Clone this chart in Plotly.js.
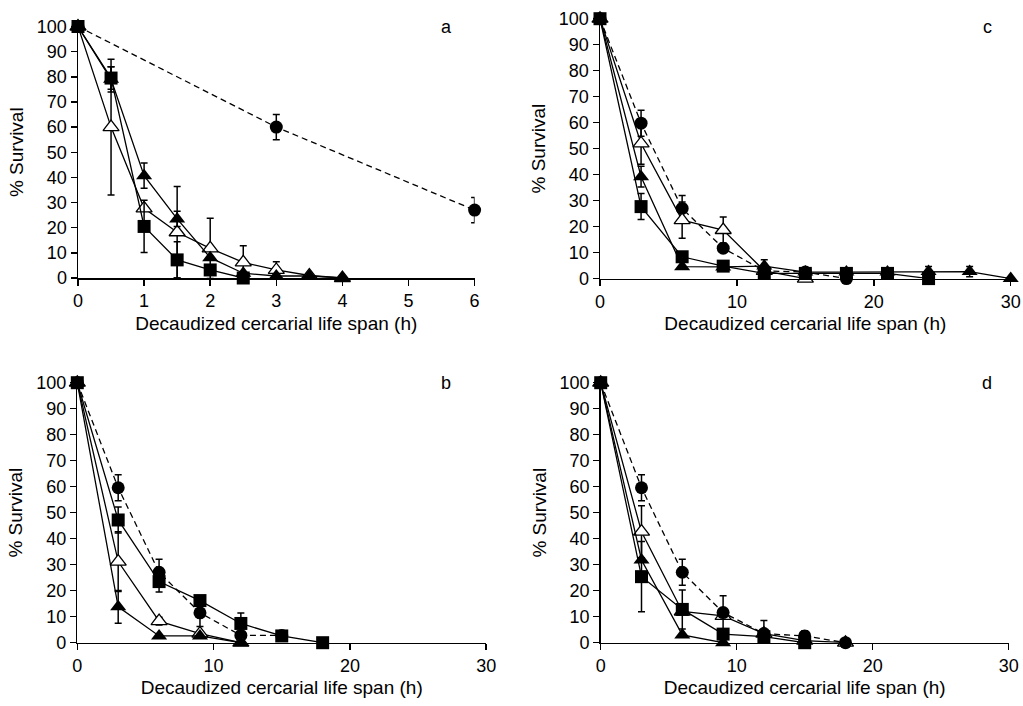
<!DOCTYPE html>
<html><head><meta charset="utf-8">
<script src="https://cdn.plot.ly/plotly-3.0.1.min.js"></script>
<style>html,body{margin:0;padding:0;background:#fff}#chart{width:1023px;height:706px}</style>
</head><body><div id="chart"></div>
<script>
// Panel a
const a_circle_x = [0, 3, 6];
const a_circle_y = [100, 60, 27];
const a_circle_err = [0, 5, 5];
const a_otri_x = [0, 0.5, 1, 1.5, 2, 2.5, 3, 3.5, 4];
const a_otri_y = [100, 60, 27.7, 18.2, 11.8, 6.2, 3.2, 1, 0];
const a_otri_err = [0, 27, 0, 18.2, 12, 6.6, 3.3, 0, 0];
const a_tri_x = [0, 0.5, 1, 1.5, 2, 2.5, 3, 3.5, 4];
const a_tri_y = [100, 79, 40.7, 23.5, 8.1, 1.9, 0.8, 0.8, 0];
const a_tri_err = [0, 5, 5, 3, 0, 0, 0, 0, 0];
const a_square_x = [0, 0.5, 1, 1.5, 2, 2.5];
const a_square_y = [100, 79.5, 20.5, 7.2, 3.2, 0];
const a_square_err = [0, 4.5, 10.4, 7.2, 0, 0];

// Panel b
const b_circle_x = [0, 3, 6, 9, 12, 15];
const b_circle_y = [100, 59.6, 27.1, 11.5, 2.8, 2.8];
const b_circle_err = [0, 5, 5, 5.3, 0, 0];
const b_otri_x = [0, 3, 6, 9, 12];
const b_otri_y = [100, 31.2, 8.3, 3.5, 0];
const b_otri_err = [0, 11.5, 1.5, 0, 0];
const b_tri_x = [0, 3, 6, 9, 12];
const b_tri_y = [100, 13.8, 2.6, 2.6, 0];
const b_tri_err = [0, 6.3, 0, 0, 0];
const b_square_x = [0, 3, 6, 9, 12, 15, 18];
const b_square_y = [100, 47.2, 23.5, 16.2, 7.4, 2.6, 0];
const b_square_err = [0, 5, 4, 0, 4, 0, 0];

// Panel c
const c_circle_x = [0, 3, 6, 9, 12, 15, 18];
const c_circle_y = [100, 59.8, 27, 11.7, 3, 2.5, 0];
const c_circle_err = [0, 5, 5, 0, 0, 0, 0];
const c_otri_x = [0, 3, 6, 9, 12, 15];
const c_otri_y = [100, 52, 22.5, 18.7, 3, 0];
const c_otri_err = [0, 8, 7, 5, 0, 0];
const c_tri_x = [0, 3, 6, 9, 12, 15, 18, 21, 24, 27, 30];
const c_tri_y = [100, 39.2, 4.6, 4.5, 4.8, 2.5, 2.5, 2.5, 2.7, 2.7, 0];
const c_tri_err = [0, 4, 0, 0, 2.5, 0, 0, 0, 2, 2, 0];
const c_square_x = [0, 3, 6, 9, 12, 15, 18, 21, 24];
const c_square_y = [100, 27.7, 8.4, 4.8, 2, 2, 2, 2, 0];
const c_square_err = [0, 5, 1, 0, 0, 0, 0, 0, 0];

// Panel d
const d_circle_x = [0, 3, 6, 9, 12, 15, 18];
const d_circle_y = [100, 59.6, 27.1, 11.6, 3.5, 2.6, 0];
const d_circle_err = [0, 5, 5, 6.5, 0, 2, 0];
const d_otri_x = [0, 3, 6, 9, 12, 15, 18];
const d_otri_y = [100, 42.7, 12, 10.3, 3.5, 0.8, 0];
const d_otri_err = [0, 10, 0, 0, 5, 0, 0];
const d_tri_x = [0, 3, 6, 9];
const d_tri_y = [100, 31.8, 3, 0];
const d_tri_err = [0, 0, 0, 0];
const d_square_x = [0, 3, 6, 9, 12, 15];
const d_square_y = [100, 25.4, 12.8, 3.3, 2.3, 0];
const d_square_err = [0, 13.5, 7.5, 0, 0, 0];

const panelLetters = ['a', 'b', 'c', 'd'];
const xTitle = 'Decaudized cercarial life span (h)';
const yTitle = '% Survival';

const W = 1023, H = 706;
const TICKFONT = {family: 'Liberation Sans, Arial, sans-serif', size: 18, color: '#000'};
const TITLEFONT = {family: 'Liberation Sans, Arial, sans-serif', size: 19, color: '#000'};

function series(x, y, err, kind, xa, ya) {
  const base = {
    x: x, y: y, xaxis: xa, yaxis: ya, type: 'scatter', mode: 'lines+markers',
    cliponaxis: false, showlegend: false, hoverinfo: 'skip',
    error_y: {type: 'data', array: err, symmetric: true, color: '#000', thickness: 1.5, width: 3.5},
    line: {color: '#000', width: 1.3}
  };
  if (kind === 'circle') {
    base.line.dash = '6px,4px';
    base.marker = {symbol: 'circle', size: 13, color: '#000'};
  } else if (kind === 'otri') {
    base.marker = {symbol: 'triangle-up', size: 14, color: '#fff', line: {color: '#000', width: 1.3}};
  } else if (kind === 'tri') {
    base.marker = {symbol: 'triangle-up', size: 14, color: '#000'};
  } else {
    base.marker = {symbol: 'square', size: 13, color: '#000'};
  }
  return base;
}

const traces = [
  series(a_circle_x, a_circle_y, a_circle_err, 'circle', 'x', 'y'),
  series(a_otri_x, a_otri_y, a_otri_err, 'otri', 'x', 'y'),
  series(a_tri_x, a_tri_y, a_tri_err, 'tri', 'x', 'y'),
  series(a_square_x, a_square_y, a_square_err, 'square', 'x', 'y'),
  series(b_circle_x, b_circle_y, b_circle_err, 'circle', 'x2', 'y2'),
  series(b_otri_x, b_otri_y, b_otri_err, 'otri', 'x2', 'y2'),
  series(b_tri_x, b_tri_y, b_tri_err, 'tri', 'x2', 'y2'),
  series(b_square_x, b_square_y, b_square_err, 'square', 'x2', 'y2'),
  series(c_circle_x, c_circle_y, c_circle_err, 'circle', 'x3', 'y3'),
  series(c_otri_x, c_otri_y, c_otri_err, 'otri', 'x3', 'y3'),
  series(c_tri_x, c_tri_y, c_tri_err, 'tri', 'x3', 'y3'),
  series(c_square_x, c_square_y, c_square_err, 'square', 'x3', 'y3'),
  series(d_otri_x, d_otri_y, d_otri_err, 'otri', 'x4', 'y4'),
  series(d_tri_x, d_tri_y, d_tri_err, 'tri', 'x4', 'y4'),
  series(d_square_x, d_square_y, d_square_err, 'square', 'x4', 'y4'),
  series(d_circle_x, d_circle_y, d_circle_err, 'circle', 'x4', 'y4')
];

function xax(px0, px1, range, dtick, anchor) {
  return {
    domain: [px0 / W, px1 / W], range: range, dtick: dtick, anchor: anchor,
    showline: true, linecolor: '#000', linewidth: 1.5, ticks: 'outside', ticklen: 6, tickwidth: 1.5, tickcolor: '#000',
    showgrid: false, zeroline: false, tickfont: TICKFONT, fixedrange: true,
    title: {text: xTitle, font: TITLEFONT, standoff: 6}
  };
}
function yax(py0, py1, anchor) {
  return {
    domain: [1 - py1 / H, 1 - py0 / H], range: [0, 100], dtick: 10, anchor: anchor,
    showline: true, linecolor: '#000', linewidth: 1.5, ticks: 'outside', ticklen: 6, tickwidth: 1.5, tickcolor: '#000',
    showgrid: false, zeroline: false, tickfont: TICKFONT, fixedrange: true,
    title: {text: yTitle, font: TITLEFONT, standoff: 8}
  };
}

const layout = {
  width: W, height: H, margin: {l: 0, r: 0, t: 0, b: 0},
  paper_bgcolor: '#fff', plot_bgcolor: 'rgba(0,0,0,0)', font: TICKFONT, showlegend: false,
  xaxis: xax(78, 474.6, [0, 6], 1, 'y'),
  yaxis: yax(26.5, 278, 'x'),
  xaxis2: xax(77.3, 486.2, [0, 30], 10, 'y2'),
  yaxis2: yax(382.7, 642.7, 'x2'),
  xaxis3: xax(600, 1010.7, [0, 30], 10, 'y3'),
  yaxis3: yax(18.7, 278.6, 'x3'),
  xaxis4: xax(600.7, 1008.7, [0, 30], 10, 'y4'),
  yaxis4: yax(382.7, 642.7, 'x4'),
  annotations: [
    {text: panelLetters[0], x: 446 / W, y: 1 - 27 / H, xref: 'paper', yref: 'paper', showarrow: false, font: TICKFONT, xanchor: 'center', yanchor: 'middle'},
    {text: panelLetters[1], x: 446 / W, y: 1 - 383 / H, xref: 'paper', yref: 'paper', showarrow: false, font: TICKFONT, xanchor: 'center', yanchor: 'middle'},
    {text: panelLetters[2], x: 987 / W, y: 1 - 27 / H, xref: 'paper', yref: 'paper', showarrow: false, font: TICKFONT, xanchor: 'center', yanchor: 'middle'},
    {text: panelLetters[3], x: 987 / W, y: 1 - 383 / H, xref: 'paper', yref: 'paper', showarrow: false, font: TICKFONT, xanchor: 'center', yanchor: 'middle'}
  ]
};

Plotly.newPlot('chart', traces, layout, {displayModeBar: false, staticPlot: true});
</script>
</body></html>
